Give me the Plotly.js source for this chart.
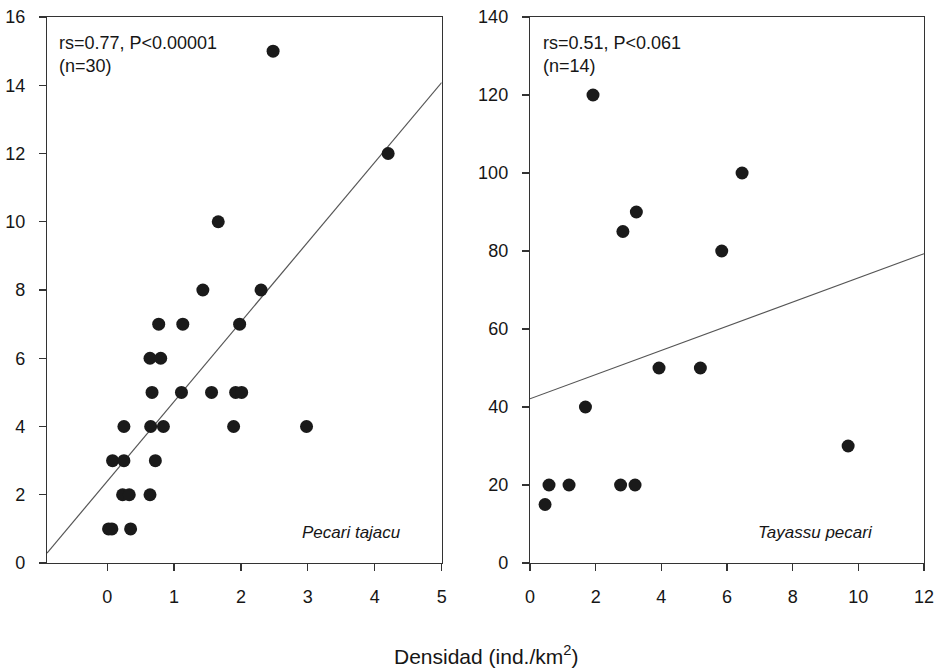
<!DOCTYPE html>
<html>
<head>
<meta charset="utf-8">
<script src="https://cdn.plot.ly/plotly-3.0.1.min.js"></script>
<style>html,body{margin:0;padding:0;background:#fff}#chart{width:936px;height:670px}</style>
</head>
<body>
<div id="chart"></div>
<script>
// Pecari tajacu
const tajacuX = [0.02, 0.07, 0.35, 0.23, 0.33, 0.64, 0.08, 0.25, 0.72, 0.25, 0.65, 0.84, 1.89, 2.98,
  0.67, 1.11, 1.56, 1.92, 2.01, 0.64, 0.80, 0.77, 1.13, 1.98, 1.43, 2.30, 1.66, 4.20, 2.48];
const tajacuY = [1, 1, 1, 2, 2, 2, 3, 3, 3, 4, 4, 4, 4, 4,
  5, 5, 5, 5, 5, 6, 6, 7, 7, 7, 8, 8, 10, 12, 15];
// Tayassu pecari
const pecariX = [0.46, 0.58, 1.19, 2.76, 3.20, 1.69, 3.93, 5.19, 9.69, 1.92, 3.24, 2.83, 6.46, 5.84];
const pecariY = [15, 20, 20, 20, 20, 40, 50, 50, 30, 120, 90, 85, 100, 80];
// regression lines (endpoints of the drawn fit)
const fitTajacuX = [-0.9, 5];
const fitTajacuY = [0.29, 14.08];
const fitPecariX = [0, 12];
const fitPecariY = [42.1, 79.3];

const xTicksLeft = [0, 1, 2, 3, 4, 5];
const yTicksLeft = [0, 2, 4, 6, 8, 10, 12, 14, 16];
const xTicksRight = [0, 2, 4, 6, 8, 10, 12];
const yTicksRight = [0, 20, 40, 60, 80, 100, 120, 140];

const FONT = "'Liberation Sans Narrow', 'Liberation Sans', Arial, sans-serif";
const ink = '#1a1a1a';
const txt = '#161616';

const traces = [
  {x: fitTajacuX, y: fitTajacuY, mode: 'lines', line: {color: '#555', width: 1.2}, xaxis: 'x', yaxis: 'y', hoverinfo: 'skip'},
  {x: tajacuX, y: tajacuY, mode: 'markers', marker: {color: ink, size: 13}, xaxis: 'x', yaxis: 'y'},
  {x: fitPecariX, y: fitPecariY, mode: 'lines', line: {color: '#555', width: 1.2}, xaxis: 'x2', yaxis: 'y2', hoverinfo: 'skip'},
  {x: pecariX, y: pecariY, mode: 'markers', marker: {color: ink, size: 13}, xaxis: 'x2', yaxis: 'y2'}
];

function ax(extra) {
  return Object.assign({
    showline: true, linecolor: '#333', linewidth: 1.2, mirror: true,
    showgrid: false, zeroline: false,
    ticks: 'outside', ticklen: 7, tickcolor: '#333', tickwidth: 1.2,
    tickfont: {family: FONT, size: 18, color: txt},
    tickmode: 'array', fixedrange: true
  }, extra);
}

const layout = {
  width: 936, height: 670,
  margin: {l: 47, r: 12, t: 17, b: 107},
  paper_bgcolor: '#fff', plot_bgcolor: '#fff',
  showlegend: false,
  font: {family: FONT, color: txt},
  xaxis: ax({domain: [0, 0.45], range: [-0.9, 5], tickvals: xTicksLeft, ticktext: xTicksLeft.map(String), ticklabelstandoff: 10}),
  yaxis: ax({domain: [0, 1], range: [0, 16], tickvals: yTicksLeft, ticktext: yTicksLeft.map(String), ticklabelstandoff: 10}),
  xaxis2: ax({domain: [0.5507, 1], range: [0, 12], tickvals: xTicksRight, ticktext: xTicksRight.map(String), anchor: 'y2', ticklabelstandoff: 10}),
  yaxis2: ax({domain: [0, 1], range: [0, 140], tickvals: yTicksRight, ticktext: yTicksRight.map(String), anchor: 'x2', ticklabelstandoff: 10}),
  annotations: [
    {xref: 'x domain', yref: 'y domain', x: 0.025, y: 0.975, xanchor: 'left', yanchor: 'top', align: 'left', showarrow: false,
      text: 'rs=0.77, P<0.00001<br>(n=30)', font: {family: FONT, size: 18, color: txt}},
    {xref: 'x2 domain', yref: 'y2 domain', x: 0.027, y: 0.975, xanchor: 'left', yanchor: 'top', align: 'left', showarrow: false,
      text: 'rs=0.51, P<0.061<br>(n=14)', font: {family: FONT, size: 18, color: txt}},
    {xref: 'x domain', yref: 'y domain', x: 0.902, y: 0.055, xanchor: 'right', yanchor: 'middle', showarrow: false,
      text: '<i>Pecari tajacu</i>', font: {family: FONT, size: 17, color: txt}},
    {xref: 'x2 domain', yref: 'y2 domain', x: 0.875, y: 0.055, xanchor: 'right', yanchor: 'middle', showarrow: false,
      text: '<i>Tayassu pecari</i>', font: {family: FONT, size: 17, color: txt}},
    {xref: 'paper', yref: 'paper', x: 0.5, xanchor: 'center', y: -0.194, yanchor: 'bottom', borderpad: 0, showarrow: false,
      text: 'Densidad (ind./km<sup>2</sup>)', font: {family: FONT, size: 21, color: txt}}
  ]
};

Plotly.newPlot('chart', traces, layout, {displayModeBar: false, staticPlot: true});
</script>
</body>
</html>
